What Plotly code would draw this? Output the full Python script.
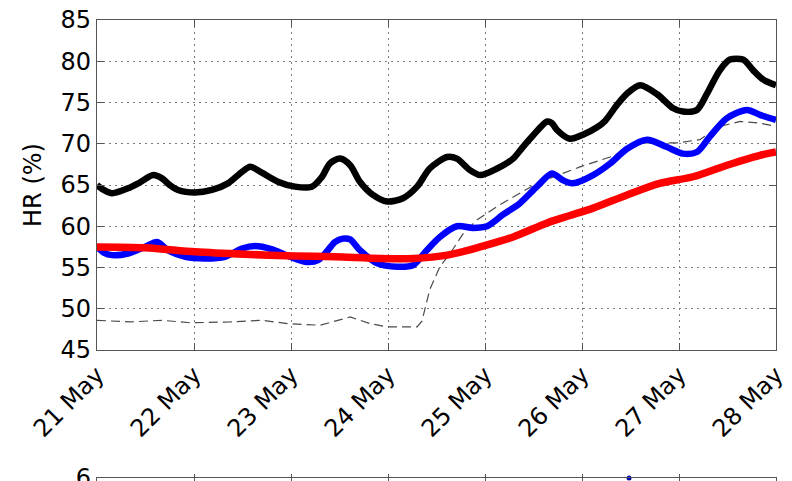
import pandas as pd
import plotly.graph_objects as go

# Time axis origin; series times are given as fractional days after it
start = pd.Timestamp("2012-05-21")

# Upper black curve
black_days = [0.00, 0.07, 0.155, 0.32, 0.44, 0.58, 0.67, 0.75, 0.835, 1.01, 1.185, 1.35,
              1.495, 1.58, 1.70, 1.865, 2.04, 2.215, 2.32, 2.40, 2.505, 2.61, 2.71, 2.845,
              2.99, 3.155, 3.30, 3.43, 3.61, 3.71, 3.845, 3.95, 4.125, 4.29, 4.39, 4.495,
              4.64, 4.69, 4.74, 4.875, 5.01, 5.155, 5.24, 5.36, 5.465, 5.60, 5.775, 5.94,
              6.04, 6.185, 6.29, 6.42, 6.525, 6.66, 6.765, 6.865, 7.00]
black_hr = [65.0, 64.4, 64.0, 64.6, 65.3, 66.2, 65.8, 65.0, 64.4, 64.1, 64.4, 65.2,
            66.6, 67.2, 66.5, 65.4, 64.8, 64.8, 66.0, 67.6, 68.2, 67.4, 65.4, 63.8,
            63.0, 63.4, 64.8, 67.0, 68.4, 68.2, 66.8, 66.2, 67.0, 68.2, 69.6, 71.0,
            72.7, 72.5, 71.7, 70.6, 71.1, 72.0, 72.8, 74.7, 76.1, 77.1, 76.0, 74.3,
            73.9, 74.1, 76.1, 78.9, 80.2, 80.2, 78.9, 77.8, 77.1]

# Blue curve
blue_days = [0.00, 0.07, 0.155, 0.32, 0.495, 0.62, 0.73, 0.91, 1.115, 1.32, 1.495, 1.63,
             1.805, 1.97, 2.145, 2.28, 2.38, 2.455, 2.535, 2.61, 2.71, 2.89, 3.095, 3.26,
             3.40, 3.535, 3.71, 3.875, 4.02, 4.185, 4.36, 4.535, 4.69, 4.80, 4.905, 5.115,
             5.29, 5.465, 5.67, 5.875, 6.04, 6.185, 6.32, 6.495, 6.70, 6.835, 7.00]
blue_hr = [57.5, 56.8, 56.5, 56.7, 57.5, 58.1, 57.1, 56.3, 56.1, 56.3, 57.3, 57.6,
           57.2, 56.4, 55.7, 55.9, 57.1, 58.1, 58.5, 58.4, 57.1, 55.5, 55.1, 55.3,
           57.1, 58.7, 60.0, 59.8, 60.0, 61.4, 62.8, 64.8, 66.4, 65.6, 65.2, 66.2,
           67.6, 69.4, 70.5, 69.6, 68.8, 69.0, 70.9, 73.1, 74.1, 73.5, 72.9]

# Red curve
red_days = [0.00, 0.495, 1.01, 1.525, 2.04, 2.455, 2.92, 3.26, 3.61, 3.95, 4.29, 4.64,
            4.875, 5.115, 5.465, 5.80, 6.145, 6.495, 6.835, 7.00]
red_hr = [57.5, 57.4, 56.9, 56.6, 56.4, 56.3, 56.1, 56.1, 56.5, 57.5, 58.7, 60.4,
          61.3, 62.2, 63.8, 65.2, 66.0, 67.4, 68.6, 69.0]

# Thin dashed curve
dash_days = [0.00, 0.34, 0.67, 0.96, 1.37, 1.70, 1.97, 2.30, 2.61, 2.815, 2.99, 3.30,
             3.35, 3.43, 3.535, 3.64, 3.775, 3.92, 4.125, 4.33, 4.535, 4.80, 4.98, 5.29,
             5.63, 5.98, 6.215, 6.42, 6.63, 6.835, 7.00]
dash_hr = [48.6, 48.4, 48.6, 48.3, 48.4, 48.6, 48.2, 48.0, 49.0, 48.2, 47.8, 47.8,
           48.5, 52.3, 55.1, 56.7, 59.1, 60.8, 62.4, 63.8, 65.2, 66.4, 67.2, 68.4,
           70.1, 70.1, 70.5, 72.1, 72.7, 72.5, 72.1]

# Lower panel (only its top edge fits in the page)
lower_days = [5.485]
lower_vals = [6.0]

y_ticks = [45, 50, 55, 60, 65, 70, 75, 80, 85]
x_end_days = 7


def to_time(days):
    return start + pd.to_timedelta(days, unit="D")


FONT = "DejaVu Sans"
FS = 24
W, H = 792, 481
M_L, M_R, M_T, M_B = 97, 16, 20, 0
plot_h = H - M_T - M_B
main_bottom_px = 350
lower_top_px = 478

fig = go.Figure()

fig.add_trace(go.Scatter(x=to_time(dash_days), y=dash_hr, mode="lines",
                         line=dict(color="#4a4a4a", width=1.2, dash="9px,5px"),
                         showlegend=False))
fig.add_trace(go.Scatter(x=to_time(blue_days), y=blue_hr, mode="lines",
                         line=dict(color="#0000ff", width=6.5, shape="spline", smoothing=0.8),
                         showlegend=False))
fig.add_trace(go.Scatter(x=to_time(red_days), y=red_hr, mode="lines",
                         line=dict(color="#ff0000", width=7.5, shape="spline", smoothing=0.8),
                         showlegend=False))
fig.add_trace(go.Scatter(x=to_time(black_days), y=black_hr, mode="lines",
                         line=dict(color="#000000", width=6.5, shape="spline", smoothing=0.8),
                         showlegend=False))

fig.add_trace(go.Scatter(x=to_time(lower_days), y=lower_vals, mode="markers",
                         marker=dict(color="#0000aa", size=5), cliponaxis=False,
                         xaxis="x2", yaxis="y2", showlegend=False))

x_range = [start, to_time(x_end_days)]
axis_common = dict(showline=True, linecolor="#555555", linewidth=1.3, mirror="ticks",
                   ticks="inside", ticklen=7, tickcolor="#555555",
                   tickfont=dict(family=FONT, size=FS, color="#000000"),
                   zeroline=False, automargin=False)
grid_style = dict(showgrid=True, gridcolor="#7a7a7a", griddash="2px,4px", gridwidth=1)

fig.update_layout(
    template="none",
    width=W, height=H,
    margin=dict(l=M_L, r=M_R, t=M_T, b=M_B),
    paper_bgcolor="white", plot_bgcolor="white",
    xaxis=dict(type="date", range=x_range, dtick=86400000, tick0=start,
               tickformat="%d %b", tickangle=-45,
               anchor="y", **grid_style, **axis_common),
    yaxis=dict(range=[45, 85], tickvals=y_ticks,
               domain=[1 - (main_bottom_px - M_T) / plot_h, 1],
               title=dict(text="HR (%)", font=dict(family=FONT, size=FS, color="#000000"),
                          standoff=12),
               anchor="x", **grid_style, **axis_common),
    xaxis2=dict(type="date", range=x_range, showticklabels=False, showgrid=False,
                anchor="y2", **axis_common),
    yaxis2=dict(range=[0, 6], tickvals=[6], showgrid=False, ticklabeloverflow="allow",
                domain=[0, (H - M_B - lower_top_px) / plot_h],
                anchor="x2", **axis_common),
)

fig.write_html("out.html")
